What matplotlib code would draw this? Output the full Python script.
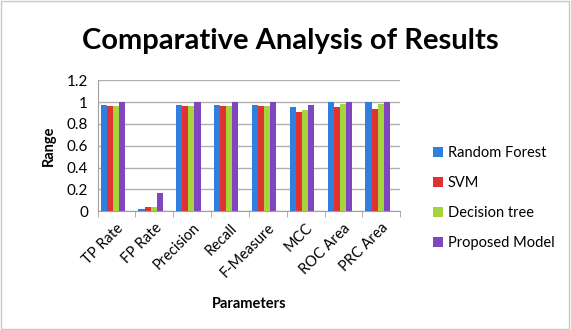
import matplotlib
matplotlib.use('Agg')
import matplotlib.pyplot as plt
import numpy as np

params = ['TP Rate', 'FP Rate', 'Precision', 'Recall', 'F-Measure', 'MCC', 'ROC Area', 'PRC Area']
rf = [0.975, 0.022, 0.975, 0.975, 0.975, 0.954, 1.0, 1.0]
svm = [0.965, 0.043, 0.965, 0.965, 0.963, 0.908, 0.954, 0.933]
dt = [0.965, 0.043, 0.965, 0.965, 0.963, 0.924, 0.985, 0.985]
pm = [1.0, 0.166, 1.0, 1.0, 0.997, 0.975, 1.0, 1.0]

series = [('Random Forest', rf, '#2f7fe0'),
          ('SVM', svm, '#e03232'),
          ('Decision tree', dt, '#a6d43c'),
          ('Proposed Model', pm, '#8045c0')]

plt.rcParams['font.family'] = ['Lato', 'DejaVu Sans']

fig = plt.figure(figsize=(5.71, 3.30), dpi=100)
ax = fig.add_axes([0.171, 0.36, 0.53, 0.397])

x = np.arange(len(params))
w = 0.16
for i, (name, vals, col) in enumerate(series):
    ax.bar(x - 1.5 * w + i * w - 0.1, vals, w, color=col, label=name, zorder=3)

ax.set_xlim(-0.5, len(params) - 0.5)
ax.set_ylim(0, 1.2)
ax.set_yticks(np.arange(0, 1.21, 0.2))
ax.set_yticklabels(['0', '0.2', '0.4', '0.6', '0.8', '1', '1.2'], fontsize=11)
ax.yaxis.grid(True, color='#b0b0b0', linewidth=1, zorder=0)
ax.tick_params(axis='y', length=0, pad=7)

ax.set_xticks(x)
ax.set_xticklabels(params, rotation=45, ha='right', rotation_mode='anchor', fontsize=10.5)
ax.tick_params(axis='x', length=0, pad=7)
ax.set_xticks(np.arange(-0.5, len(params), 1), minor=True)
ax.tick_params(axis='x', which='minor', length=4, color='#a0a0a0')

for s in ['top', 'right']:
    ax.spines[s].set_visible(False)
for s in ['left', 'bottom']:
    ax.spines[s].set_color('#a0a0a0')

ax.set_ylabel('Range', fontsize=10.5, fontweight='bold', labelpad=8)
ax.set_xlabel('Parameters', fontsize=10.5, fontweight='bold', labelpad=12)

fig.text(0.508, 0.875, 'Comparative Analysis of Results', ha='center', va='center',
         fontsize=21, fontweight='bold')

ax.legend(loc='center left', bbox_to_anchor=(1.065, 0.1), frameon=False,
          fontsize=10.5, handlelength=0.7, handleheight=0.7, handletextpad=0.3,
          labelspacing=1.1)

fig.patches.append(plt.Rectangle((0.002, 0.003), 0.995, 0.993, transform=fig.transFigure,
                                 fill=False, edgecolor='#c8c8c8', linewidth=1))

fig.savefig('out.png', dpi=100)
